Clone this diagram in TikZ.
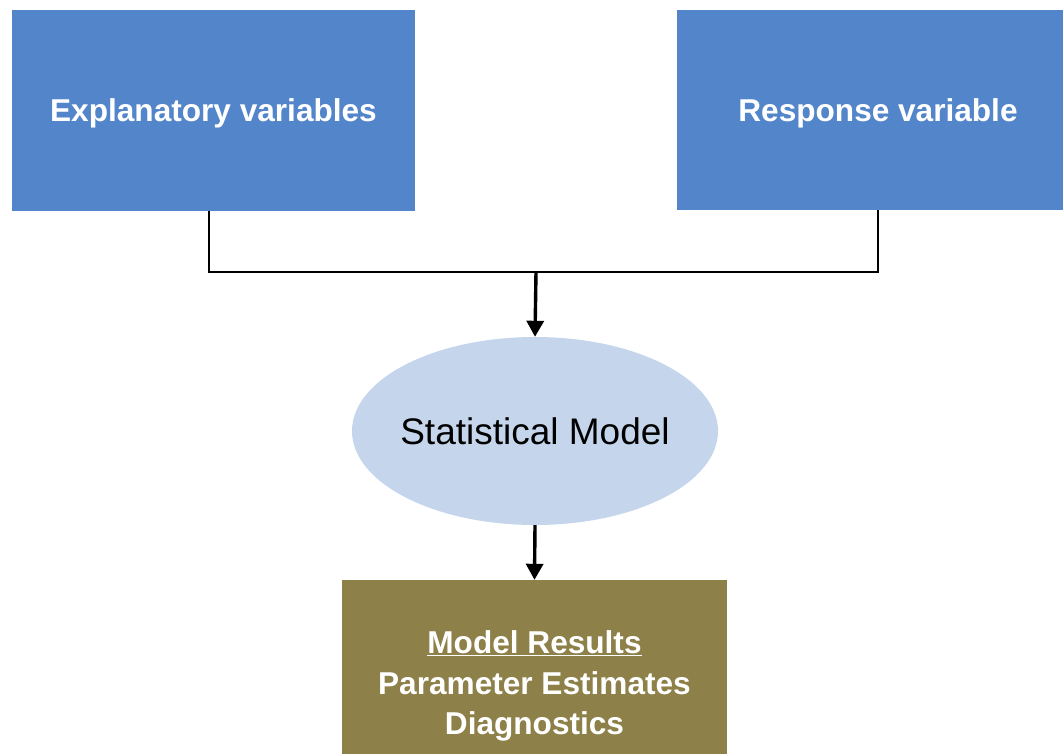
\documentclass[tikz,border=0pt]{standalone}
\usepackage{fontspec}
\setmainfont{Liberation Sans}
\usepackage{xcolor}
\usepackage{tikz}
\usetikzlibrary{shapes.geometric, arrows.meta, positioning, calc}

\definecolor{boxblue}{RGB}{82,133,202}
\definecolor{modelblue}{RGB}{197,214,236}
\definecolor{olive}{RGB}{141,128,73}

\begin{document}
\begin{tikzpicture}[
  x=1pt, y=-1pt,
  box/.style={rectangle, fill=boxblue, text=white, align=center, inner sep=0pt,
    font=\fontsize{31.6}{40}\selectfont\bfseries},
  model/.style={ellipse, fill=modelblue, inner sep=0pt, minimum width=366pt, minimum height=188pt,
    font=\fontsize{37}{44}\selectfont},
  result/.style={box, fill=olive, font=\fontsize{31.6}{40.5}\selectfont\bfseries},
  link/.style={draw=black, line width=2.4pt},
  arrow/.style={draw=black, line width=3.4pt, -{Triangle[width=17pt,length=16pt]}}
]
  \useasboundingbox (0,0) rectangle (1063,754);
  \node[box, minimum width=403pt, minimum height=201pt] (expl) at (213.5,110.5) {\raisebox{-11.5pt}[0pt][0pt]{Explanatory variables}};
  \node[box, minimum width=402pt, minimum height=200pt] (resp) at (878,110) {\raisebox{-11.5pt}[0pt][0pt]{Response variable}};
  \node[model] (stat) at (535,431) {\makebox[0pt]{Statistical Model}};
  \node[result, minimum width=385pt, minimum height=212pt] (res) at (534.5,686) {\underline{Model Results}\\Parameter Estimates\\Diagnostics};
  \coordinate (join) at (536,272);
  \draw[link] ($(expl.south)+(-4.5,0)$) |- (join) -| (resp.south);
  \draw[arrow] (join) -- (stat.north);
  \draw[arrow] (stat.south) -- (res.north);
\end{tikzpicture}
\end{document}
